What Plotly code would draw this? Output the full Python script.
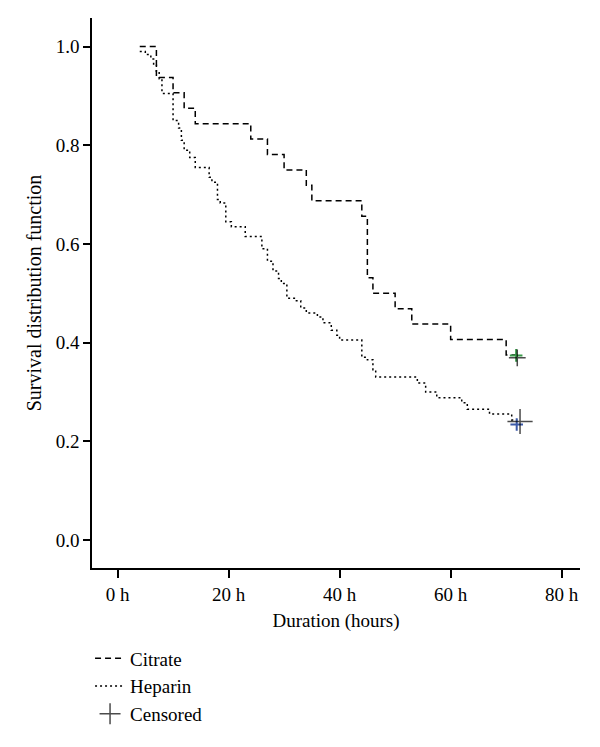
import plotly.graph_objects as go

# Kaplan-Meier steps (hours, survival)
citrate_t = [4, 7, 10, 12, 14, 24, 27, 30, 34, 35, 44, 45, 46, 50, 53, 60, 70, 72]
citrate_s = [1.0, 0.9375, 0.90625, 0.875, 0.84375, 0.8125, 0.78125, 0.75, 0.71875,
             0.6875, 0.65625, 0.53125, 0.5, 0.46875, 0.4375, 0.40625, 0.375, 0.375]

heparin_t = [4, 5, 6, 6.5, 7, 7.5, 8, 10, 11, 11.5, 12, 13, 14, 16.5, 17, 18, 18.5,
             19.5, 20.5, 23, 26, 27, 28, 29, 29.5, 30.5, 32, 33, 34, 36, 37, 38.5,
             39.5, 40, 44, 45, 46, 46.5, 54, 55.5, 57.5, 62, 63, 67, 71, 72]
heparin_s = [0.99, 0.984, 0.975, 0.962, 0.95, 0.935, 0.905, 0.85, 0.835, 0.81, 0.79,
             0.775, 0.755, 0.735, 0.725, 0.69, 0.683, 0.645, 0.635, 0.615, 0.59, 0.565,
             0.545, 0.53, 0.52, 0.49, 0.485, 0.47, 0.46, 0.452, 0.44, 0.425, 0.415,
             0.405, 0.37, 0.365, 0.345, 0.33, 0.318, 0.30, 0.288, 0.278, 0.265, 0.255,
             0.243, 0.243]

# censored observations
censored_t = [72, 72.5]
censored_s = [0.369, 0.240]
citrate_cens_t = [71.8]
citrate_cens_s = [0.374]
heparin_cens_t = [71.9]
heparin_cens_s = [0.234]

x_ticks = [0, 20, 40, 60, 80]
x_labels = ["0 h", "20 h", "40 h", "60 h", "80 h"]
y_ticks = [0.0, 0.2, 0.4, 0.6, 0.8, 1.0]

font = "Liberation Serif"

fig = go.Figure()

fig.add_trace(go.Scatter(
    x=citrate_t, y=citrate_s, mode="lines", line_shape="hv",
    line=dict(color="black", width=1.5, dash="6px,4px"), name="Citrate",
))
fig.add_trace(go.Scatter(
    x=heparin_t, y=heparin_s, mode="lines", line_shape="hv",
    line=dict(color="black", width=1.5, dash="2px,3px"), name="Heparin",
))
fig.add_trace(go.Scatter(
    x=citrate_cens_t, y=citrate_cens_s, mode="markers", showlegend=False,
    marker=dict(symbol="cross-thin", size=9, line=dict(color="#3a9a4a", width=2)),
))
fig.add_trace(go.Scatter(
    x=heparin_cens_t, y=heparin_cens_s, mode="markers", showlegend=False,
    marker=dict(symbol="cross-thin", size=9, line=dict(color="#3c5aa8", width=2)),
))
fig.add_trace(go.Scatter(
    x=censored_t, y=censored_s, mode="markers", name="Censored",
    marker=dict(symbol="cross-thin", size=[12, 18], line=dict(color="black", width=1.5)),
))

# the page body adds an 8px margin, so the figure is 8px smaller than the window
fig.update_layout(
    width=592, height=739,
    margin=dict(l=84, r=20, t=10, b=179),
    plot_bgcolor="white", paper_bgcolor="white",
    font=dict(family=font, size=19, color="black"),
    showlegend=True,
    legend=dict(
        x=-0.004, y=-0.13, xanchor="left", yanchor="top",
        font=dict(family=font, size=19), bgcolor="rgba(0,0,0,0)",
        itemwidth=30, tracegroupgap=0,
    ),
)

fig.update_xaxes(
    range=[-4.6, 83.3], tickvals=x_ticks, ticktext=x_labels,
    showline=True, linecolor="black", linewidth=1.5, showgrid=False, zeroline=False,
    ticks="outside", ticklen=8, tickwidth=1.5, tickcolor="black",
    tickfont=dict(size=19),
    title=dict(text="Duration (hours)", standoff=10, font=dict(size=19)),
)
fig.update_yaxes(
    range=[-0.057, 1.058], tickvals=y_ticks, tickformat=".1f",
    showline=True, linecolor="black", linewidth=1.5, showgrid=False, zeroline=False,
    ticks="outside", ticklen=7, tickwidth=1.5, tickcolor="black",
    tickfont=dict(size=19),
    title=dict(text="Survival distribution function", standoff=9, font=dict(size=20)),
)

fig.write_html("out.html")
